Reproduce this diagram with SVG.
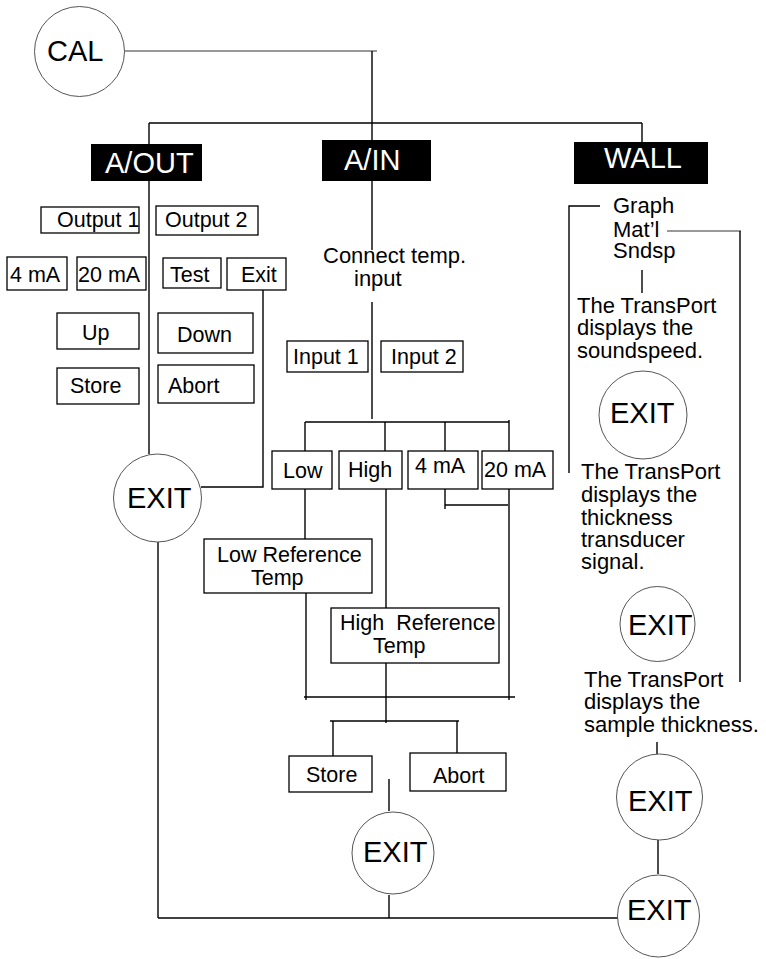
<svg xmlns="http://www.w3.org/2000/svg" width="766" height="959" viewBox="0 0 766 959">
  <style>
    text { font-family: "Liberation Sans", Arial, sans-serif; fill: #000; }
    .big { font-size: 29px; }
    .lbl { font-size: 21.5px; }
    .txt { font-size: 22px; }
    .inv { fill: #fff; }
    .box { fill: #fff; stroke: #000; stroke-width: 1.3; }
    .hdr { fill: #000; stroke: none; }
    .circ { fill: #fff; stroke: #555; stroke-width: 1; }
    .conn line, .conn polyline { stroke: #000; stroke-width: 1.4; fill: none; }
    .conn .soft { stroke: #777; }
  </style>

  <!-- connectors -->
  <g id="connectors" class="conn">
    <line class="soft" x1="124" y1="51" x2="377" y2="51"/>
    <line x1="372" y1="51" x2="372" y2="140"/>
    <line x1="149" y1="123" x2="642" y2="123"/>
    <line x1="149" y1="123" x2="149" y2="144"/>
    <line x1="642" y1="123" x2="642" y2="142"/>
    <!-- A/OUT branch -->
    <line x1="149" y1="181" x2="149" y2="454"/>
    <polyline points="263,290 263,487 201,487"/>
    <line x1="158" y1="542" x2="158" y2="918"/>
    <line x1="158" y1="918" x2="619" y2="918"/>
    <!-- A/IN branch -->
    <line x1="372" y1="181" x2="372" y2="250"/>
    <line x1="372" y1="302" x2="372" y2="419"/>
    <line x1="305" y1="422" x2="509" y2="422"/>
    <line x1="305" y1="422" x2="305" y2="451"/>
    <line x1="385" y1="422" x2="385" y2="451"/>
    <line x1="445" y1="422" x2="445" y2="451"/>
    <line x1="509" y1="420" x2="509" y2="451"/>
    <line x1="305" y1="489" x2="305" y2="539"/>
    <line x1="386" y1="489" x2="386" y2="608"/>
    <polyline points="445,489 445,509"/>
    <line x1="445" y1="505" x2="508" y2="505"/>
    <line x1="509" y1="489" x2="509" y2="700"/>
    <line x1="306" y1="593" x2="306" y2="700"/>
    <line x1="304" y1="697" x2="515" y2="697"/>
    <line x1="386" y1="663" x2="386" y2="723"/>
    <line x1="330" y1="721" x2="459" y2="721"/>
    <line x1="333" y1="721" x2="333" y2="756"/>
    <line x1="457" y1="721" x2="457" y2="755"/>
    <line x1="389" y1="779" x2="389" y2="811"/>
    <line x1="389" y1="895" x2="389" y2="918"/>
    <!-- WALL branch -->
    <polyline points="600,206 569,206 569,473"/>
    <polyline class="soft" points="667,231 741,231"/>
    <line x1="740" y1="231" x2="740" y2="682"/>
    <line x1="642" y1="270" x2="642" y2="293"/>
    <line x1="657" y1="742" x2="657" y2="754"/>
    <line x1="658" y1="840" x2="658" y2="874"/>
  </g>

  <g id="cal">
    <circle class="circ" cx="79.5" cy="51.5" r="45"/>
    <text class="big" x="47" y="61">CAL</text>
  </g>

  <g id="a-out">
    <rect class="hdr" x="91" y="144" width="111" height="37"/>
    <text class="big inv" x="105" y="173">A/OUT</text>
  </g>
  <g id="a-in">
    <rect class="hdr" x="322" y="140" width="109" height="41"/>
    <text class="big inv" x="344" y="170">A/IN</text>
  </g>
  <g id="wall">
    <rect class="hdr" x="574" y="142" width="134" height="42"/>
    <text class="big inv" x="604" y="168">WALL</text>
  </g>

  <!-- A/OUT menu -->
  <g id="output1"><rect class="box" x="41" y="207" width="98" height="26"/><text class="lbl" x="57" y="227">Output 1</text></g>
  <g id="output2"><rect class="box" x="156" y="206" width="102" height="29"/><text class="lbl" x="165" y="227">Output 2</text></g>
  <g id="out-4ma"><rect class="box" x="7" y="257" width="60" height="33"/><text class="lbl" x="10" y="282">4 mA</text></g>
  <g id="out-20ma"><rect class="box" x="77" y="257" width="69" height="33"/><text class="lbl" x="78" y="282">20 mA</text></g>
  <g id="test"><rect class="box" x="163" y="258" width="58" height="30"/><text class="lbl" x="170" y="282">Test</text></g>
  <g id="exit-btn"><rect class="box" x="227" y="258" width="59" height="32"/><text class="lbl" x="241" y="282">Exit</text></g>
  <g id="up"><rect class="box" x="57" y="313" width="82" height="36"/><text class="lbl" x="82" y="340">Up</text></g>
  <g id="down"><rect class="box" x="158" y="313" width="95" height="40"/><text class="lbl" x="177" y="342">Down</text></g>
  <g id="out-store"><rect class="box" x="57" y="368" width="82" height="36"/><text class="lbl" x="70" y="393">Store</text></g>
  <g id="out-abort"><rect class="box" x="158" y="365" width="96" height="38"/><text class="lbl" x="168" y="393">Abort</text></g>
  <g id="exit-aout">
    <circle class="circ" cx="157.5" cy="498" r="44"/>
    <text class="big" x="127" y="508">EXIT</text>
  </g>

  <!-- A/IN menu -->
  <g id="connect-temp">
    <text class="txt" x="323" y="263">Connect temp.</text>
    <text class="txt" x="354" y="286">input</text>
  </g>
  <g id="input1"><rect class="box" x="287" y="341" width="81" height="31"/><text class="lbl" x="293" y="364">Input 1</text></g>
  <g id="input2"><rect class="box" x="381" y="341" width="82" height="31"/><text class="lbl" x="391" y="364">Input 2</text></g>
  <g id="low"><rect class="box" x="272" y="451" width="60" height="38"/><text class="lbl" x="283" y="478">Low</text></g>
  <g id="high"><rect class="box" x="339" y="451" width="63" height="38"/><text class="lbl" x="348" y="477">High</text></g>
  <g id="in-4ma"><rect class="box" x="408" y="451" width="70" height="38"/><text class="lbl" x="415" y="473">4 mA</text></g>
  <g id="in-20ma"><rect class="box" x="482" y="451" width="71" height="38"/><text class="lbl" x="484" y="477">20 mA</text></g>
  <g id="low-ref">
    <rect class="box" x="204" y="539" width="168" height="54"/>
    <text class="lbl" x="217" y="562">Low Reference</text>
    <text class="lbl" x="251" y="585">Temp</text>
  </g>
  <g id="high-ref">
    <rect class="box" x="331" y="608" width="168" height="55"/>
    <text class="lbl" x="340" y="630" xml:space="preserve">High  Reference</text>
    <text class="lbl" x="373" y="653">Temp</text>
  </g>
  <g id="in-store"><rect class="box" x="289" y="756" width="83" height="36"/><text class="lbl" x="306" y="782">Store</text></g>
  <g id="in-abort"><rect class="box" x="410" y="753" width="96" height="38"/><text class="lbl" x="433" y="783">Abort</text></g>
  <g id="exit-ain">
    <circle class="circ" cx="393" cy="853" r="41"/>
    <text class="big" x="363" y="862">EXIT</text>
  </g>

  <!-- WALL menu -->
  <g id="wall-menu">
    <text class="txt" x="613" y="213">Graph</text>
    <text class="txt" x="613" y="237">Mat’l</text>
    <text class="txt" x="613" y="258">Sndsp</text>
  </g>
  <g id="soundspeed">
    <text class="txt" x="577" y="313">The TransPort</text>
    <text class="txt" x="577" y="335">displays the</text>
    <text class="txt" x="577" y="358">soundspeed.</text>
  </g>
  <g id="exit-wall1">
    <circle class="circ" cx="643" cy="415" r="44"/>
    <text class="big" x="610" y="423">EXIT</text>
  </g>
  <g id="transducer-signal">
    <text class="txt" x="581" y="479">The TransPort</text>
    <text class="txt" x="581" y="502">displays the</text>
    <text class="txt" x="581" y="525">thickness</text>
    <text class="txt" x="581" y="547">transducer</text>
    <text class="txt" x="581" y="569">signal.</text>
  </g>
  <g id="exit-wall2">
    <circle class="circ" cx="657.5" cy="624" r="37.5"/>
    <text class="big" x="628" y="635">EXIT</text>
  </g>
  <g id="sample-thickness">
    <text class="txt" x="584" y="687">The TransPort</text>
    <text class="txt" x="584" y="709">displays the</text>
    <text class="txt" x="584" y="732">sample thickness.</text>
  </g>
  <g id="exit-wall3">
    <circle class="circ" cx="659.5" cy="797" r="43"/>
    <text class="big" x="628" y="811">EXIT</text>
  </g>
  <g id="exit-final">
    <circle class="circ" cx="658.5" cy="916" r="41"/>
    <text class="big" x="627" y="920">EXIT</text>
  </g>
</svg>
